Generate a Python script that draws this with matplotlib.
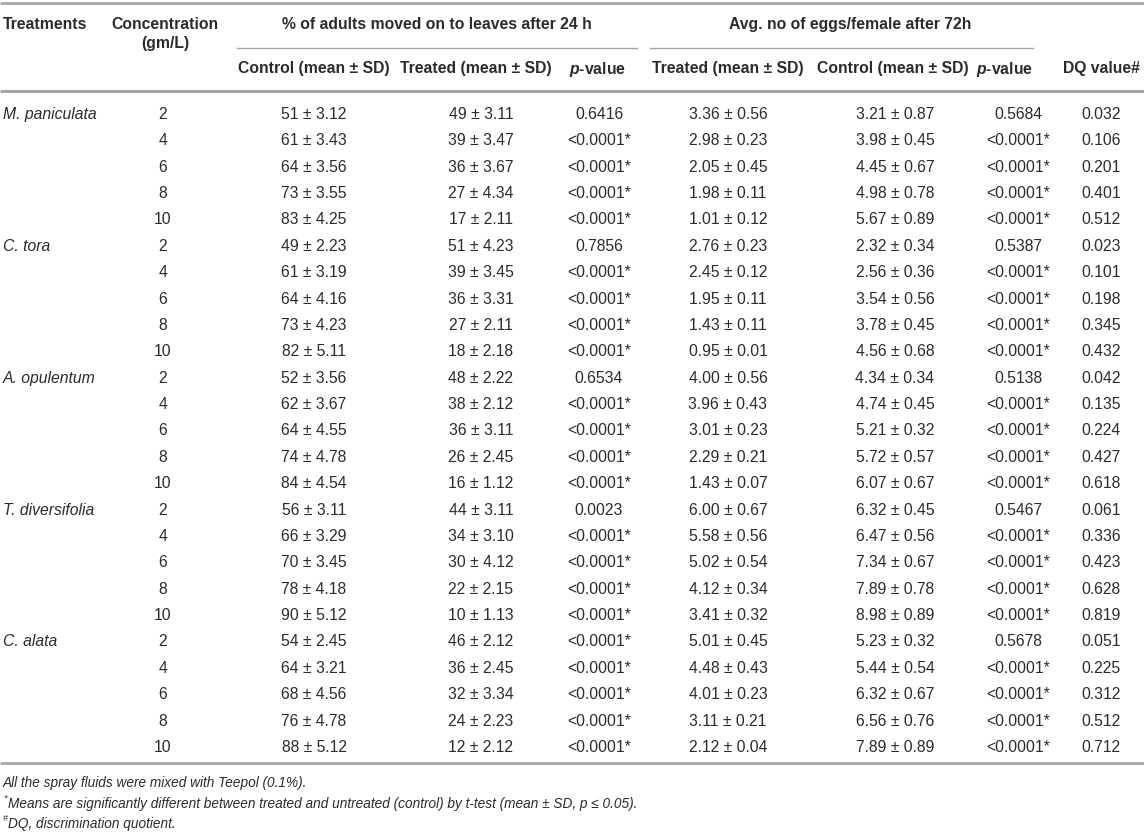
import matplotlib

matplotlib.use("Agg")
import matplotlib.pyplot as plt

plt.rcParams["font.family"] = ["Liberation Sans", "DejaVu Sans"]
plt.rcParams["mathtext.fontset"] = "custom"
plt.rcParams["mathtext.it"] = "Liberation Sans:italic:bold"
plt.rcParams["mathtext.rm"] = "Liberation Sans:bold"

species = ["M. paniculata", "C. tora", "A. opulentum", "T. diversifolia", "C. alata"]
concentrations = [2, 4, 6, 8, 10]

# % of adults moved on to leaves after 24 h
move_control_mean = [51, 61, 64, 73, 83, 49, 61, 64, 73, 82, 52, 62, 64, 74, 84,
                     56, 66, 70, 78, 90, 54, 64, 68, 76, 88]
move_control_sd = [3.12, 3.43, 3.56, 3.55, 4.25, 2.23, 3.19, 4.16, 4.23, 5.11,
                   3.56, 3.67, 4.55, 4.78, 4.54, 3.11, 3.29, 3.45, 4.18, 5.12,
                   2.45, 3.21, 4.56, 4.78, 5.12]
move_treated_mean = [49, 39, 36, 27, 17, 51, 39, 36, 27, 18, 48, 38, 36, 26, 16,
                     44, 34, 30, 22, 10, 46, 36, 32, 24, 12]
move_treated_sd = [3.11, 3.47, 3.67, 4.34, 2.11, 4.23, 3.45, 3.31, 2.11, 2.18,
                   2.22, 2.12, 3.11, 2.45, 1.12, 3.11, 3.10, 4.12, 2.15, 1.13,
                   2.12, 2.45, 3.34, 2.23, 2.12]
move_p = ["0.6416", "<0.0001*", "<0.0001*", "<0.0001*", "<0.0001*",
          "0.7856", "<0.0001*", "<0.0001*", "<0.0001*", "<0.0001*",
          "0.6534", "<0.0001*", "<0.0001*", "<0.0001*", "<0.0001*",
          "0.0023", "<0.0001*", "<0.0001*", "<0.0001*", "<0.0001*",
          "<0.0001*", "<0.0001*", "<0.0001*", "<0.0001*", "<0.0001*"]

# Avg. no of eggs/female after 72h
eggs_treated_mean = [3.36, 2.98, 2.05, 1.98, 1.01, 2.76, 2.45, 1.95, 1.43, 0.95,
                     4.00, 3.96, 3.01, 2.29, 1.43, 6.00, 5.58, 5.02, 4.12, 3.41,
                     5.01, 4.48, 4.01, 3.11, 2.12]
eggs_treated_sd = [0.56, 0.23, 0.45, 0.11, 0.12, 0.23, 0.12, 0.11, 0.11, 0.01,
                   0.56, 0.43, 0.23, 0.21, 0.07, 0.67, 0.56, 0.54, 0.34, 0.32,
                   0.45, 0.43, 0.23, 0.21, 0.04]
eggs_control_mean = [3.21, 3.98, 4.45, 4.98, 5.67, 2.32, 2.56, 3.54, 3.78, 4.56,
                     4.34, 4.74, 5.21, 5.72, 6.07, 6.32, 6.47, 7.34, 7.89, 8.98,
                     5.23, 5.44, 6.32, 6.56, 7.89]
eggs_control_sd = [0.87, 0.45, 0.67, 0.78, 0.89, 0.34, 0.36, 0.56, 0.45, 0.68,
                   0.34, 0.45, 0.32, 0.57, 0.67, 0.45, 0.56, 0.67, 0.78, 0.89,
                   0.32, 0.54, 0.67, 0.76, 0.89]
eggs_p = ["0.5684", "<0.0001*", "<0.0001*", "<0.0001*", "<0.0001*",
          "0.5387", "<0.0001*", "<0.0001*", "<0.0001*", "<0.0001*",
          "0.5138", "<0.0001*", "<0.0001*", "<0.0001*", "<0.0001*",
          "0.5467", "<0.0001*", "<0.0001*", "<0.0001*", "<0.0001*",
          "0.5678", "<0.0001*", "<0.0001*", "<0.0001*", "<0.0001*"]
dq_values = [0.032, 0.106, 0.201, 0.401, 0.512, 0.023, 0.101, 0.198, 0.345, 0.432,
             0.042, 0.135, 0.224, 0.427, 0.618, 0.061, 0.336, 0.423, 0.628, 0.819,
             0.051, 0.225, 0.312, 0.512, 0.712]

footnotes = [
    ("", "All the spray fluids were mixed with Teepol (0.1%)."),
    ("*", "Means are significantly different between treated and untreated (control) by t-test (mean \u00b1 SD, p \u2264 0.05)."),
    ("#", "DQ, discrimination quotient."),
]

W, H = 1144, 834
TXT = "#2b2b2b"
RULE = "#a6a6a6"
FS = 11.3

fig = plt.figure(figsize=(W / 100, H / 100), dpi=100)
ax = fig.add_axes([0, 0, 1, 1])
ax.set_xlim(0, W)
ax.set_ylim(H, 0)
ax.axis("off")

col_x = [314, 481, 599, 728, 895, 1018, 1101]
conc_x = 163

# header
hdr = dict(fontsize=FS, fontweight="bold", color=TXT, va="center_baseline")
ax.text(3, 23, "Treatments", ha="left", **hdr)
ax.text(conc_x + 2, 23, "Concentration", ha="center", **hdr)
ax.text(conc_x + 2, 42, "(gm/L)", ha="center", **hdr)
ax.text(437, 23, "% of adults moved on to leaves after 24 h", ha="center", **hdr)
ax.text(850, 23, "Avg. no of eggs/female after 72h", ha="center", **hdr)
ax.text(1101, 67, "DQ value#", ha="center", **hdr)
sub_heads = ["Control (mean \u00b1 SD)", "Treated (mean \u00b1 SD)", r"$\mathit{p}$-value",
             "Treated (mean \u00b1 SD)", "Control (mean \u00b1 SD)", r"$\mathit{p}$-value"]
sub_x = [314, 476, 597, 728, 893, 1004]
for x, s in zip(sub_x, sub_heads):
    ax.text(x, 67, s, ha="center", **hdr)

ax.plot([0, W], [3, 3], color=RULE, lw=2.0, solid_capstyle="butt")
ax.plot([237, 637], [48, 48], color=RULE, lw=1.0)
ax.plot([650, 1033], [48, 48], color=RULE, lw=1.0)
ax.plot([0, W], [91, 91], color=RULE, lw=2.2, solid_capstyle="butt")

# body
row0, step = 113, 26.37
body = dict(fontsize=FS, color=TXT, va="center_baseline", ha="center")
for i in range(len(dq_values)):
    y = row0 + i * step
    if i % len(concentrations) == 0:
        ax.text(3, y, species[i // len(concentrations)], fontsize=FS, color=TXT,
                va="center_baseline", ha="left", style="italic")
    ax.text(conc_x, y, str(concentrations[i % len(concentrations)]), **body)
    cells = [
        f"{move_control_mean[i]} \u00b1 {move_control_sd[i]:.2f}",
        f"{move_treated_mean[i]} \u00b1 {move_treated_sd[i]:.2f}",
        move_p[i],
        f"{eggs_treated_mean[i]:.2f} \u00b1 {eggs_treated_sd[i]:.2f}",
        f"{eggs_control_mean[i]:.2f} \u00b1 {eggs_control_sd[i]:.2f}",
        eggs_p[i],
        f"{dq_values[i]:.3f}",
    ]
    for x, s in zip(col_x, cells):
        ax.text(x, y, s, **body)

bottom = row0 + (len(dq_values) - 1) * step + 17
ax.plot([0, W], [bottom, bottom], color=RULE, lw=2.0, solid_capstyle="butt")

# footnotes
for k, (mark, note) in enumerate(footnotes):
    y = bottom + 19 + k * 20.5
    x = 3
    if mark:
        ax.text(x, y - 5, mark, fontsize=6.5, style="italic", color=TXT,
                va="center_baseline", ha="left")
        x += 5
    ax.text(x, y, note, fontsize=9.8, style="italic", color=TXT,
            va="center_baseline", ha="left")

fig.savefig("out.png", dpi=100)
